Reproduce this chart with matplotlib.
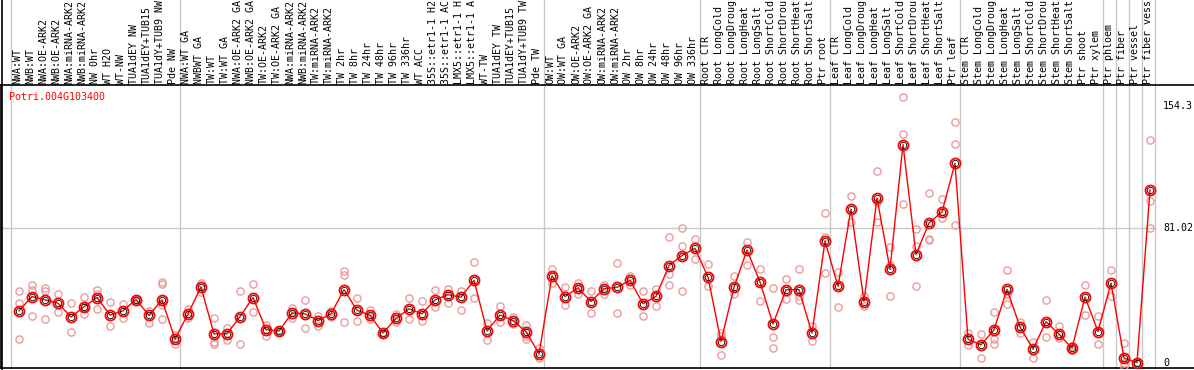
import matplotlib
matplotlib.use("Agg")
import matplotlib.pyplot as plt
from matplotlib.transforms import blended_transform_factory
from matplotlib.lines import Line2D

gene = "Potri.004G103400"

labels = [
    "NWA:WT", "NWB:WT", "NWA:OE-ARK2", "NWB:OE-ARK2", "NWA:miRNA-ARK2", "NWB:miRNA-ARK2",
    "NW 0hr", "WT H2O", "WT-NW", "TUA1dEY NW", "TUA1dEY+TUB15", "TUA1dY+TUB9 NW", "Pde NW",
    "NWA:WT GA", "NWBWT GA", "TW:WT", "TW:WT GA", "NWA:OE-ARK2 GA", "NWB:OE-ARK2 GA",
    "TW:OE-ARK2", "TW:OE-ARK2 GA", "NWA:miRNA-ARK2", "NWB:miRNA-ARK2", "TW:miRNA-ARK2",
    "TW:miRNA-ARK2", "TW 2hr", "TW 8hr", "TW 24hr", "TW 48hr", "TW 96hr", "TW 336hr",
    "WT ACC", "35S::etr1-1 H2", "35S::etr1-1 AC", "LMX5::etr1-1 H", "LMX5::etr1-1 A",
    "WT-TW", "TUA1dEY TW", "TUA1dEY+TUB15", "TUA1dY+TUB9 TW", "Pde TW",
    "OW:WT", "OW:WT GA", "OW:OE-ARK2", "OW:OE-ARK2 GA", "OW:miRNA-ARK2", "OW:miRNA-ARK2",
    "OW 2hr", "OW 8hr", "OW 24hr", "OW 48hr", "OW 96hr", "OW 336hr",
    "Root CTR", "Root LongCold", "Root LongDroug", "Root LongHeat", "Root LongSalt",
    "Root ShortCold", "Root ShortDrou", "Root ShortHeat", "Root ShortSalt", "Ptr root",
    "Leaf CTR", "Leaf LongCold", "Leaf LongDroug", "Leaf LongHeat", "Leaf LongSalt",
    "Leaf ShortCold", "Leaf ShortDrou", "Leaf ShortHeat", "Leaf ShortSalt", "Ptr leaf",
    "Stem CTR", "Stem LongCold", "Stem LongDroug", "Stem LongHeat", "Stem LongSalt",
    "Stem ShortCold", "Stem ShortDrou", "Stem ShortHeat", "Stem ShortSalt", "Ptr shoot",
    "Ptr xylem", "Ptr phloem", "Ptr fiber", "Ptr vessel", "Ptr fiber vess",
]

# index of first sample in each group (last entry closes the plot)
group_starts = [0, 13, 41, 53, 63, 73, 84, 85, 86, 87, 88]

means = [
    31.3, 39.9, 37.9, 35.9, 27.6, 33.7, 39.3, 28.8, 31.3, 38.1, 28.6, 37.9, 14.3,
    29.5, 45.6, 17.5, 17.5, 27.8, 39.3, 20.0, 19.2, 30.0, 29.5, 25.5, 29.5, 44.0,
    31.7, 28.6, 18.0, 26.8, 32.5, 29.5, 37.9, 41.0, 39.5, 49.6, 19.2, 28.8, 25.5,
    18.8, 5.6,
    52.4, 39.9, 45.0, 36.9, 44.6, 45.4, 49.6, 35.6, 40.0, 58.5, 64.5, 68.8,
    51.6, 12.9, 45.4, 67.8, 48.6, 23.4, 44.0, 44.0, 17.9, 73.2,
    46.0, 92.4, 36.9, 99.0, 56.3, 131.1, 65.1, 84.0, 90.6, 119.8,
    14.3, 10.9, 19.9, 44.2, 21.7, 8.3, 24.8, 17.3, 8.9, 39.6, 18.9,
    48.0, 3.0, 0.3, 103.9,
]

reps = [
    [43, 36.1, 14.3], [47, 44, 28.4], [45, 43.5, 26.4], [41.6, 30.5], [35.9, 18.8],
    [39.9, 29.5, 33.5], [43.9, 41.6, 32.5], [36.5, 22.4], [35.3, 27], [37.5, 38.5],
    [31, 24.2], [48.5, 47.5, 34.9, 26.4], [17, 11.7],
    [32.5, 26.8], [48, 42.5], [27, 12.5, 11.7], [20.8, 13.9], [43.5, 11.7],
    [47.5, 30.5], [22.8, 16.5], [19.8, 18.6], [33.1, 27.2], [37.9, 21], [28, 22.4],
    [31.5, 27.5], [55, 53, 24.4], [39.3, 25], [32, 26.4], [18.8, 17.5], [29.5, 24.4],
    [38.9, 26.4], [37.3, 25.5], [44, 33.7], [44.3, 35.9], [43.5, 32], [60.5, 38.9],
    [24, 13.7], [34.5, 24.4], [27.5, 23.5], [23, 14.3, 16], [8.9, 2.8],
    [56.7, 48], [45.4, 34.7], [47.8, 41.6], [43.3, 30.3], [47, 41.6], [60.3, 29.8],
    [52.2, 46.6], [43, 28.4], [44.2, 34.5], [75.4, 53.6, 46.6], [80.9, 70, 43],
    [74.4, 62.7],
    [59.7, 46.2], [18.3, 16.5, 4.6], [52.2, 41.4], [72.8, 59.1], [56.3, 37.5],
    [45.2, 15.7, 8.9], [50.2, 38.5], [56.7, 40.5, 37.9], [22.5, 13.3], [90, 75.8, 54.2],
    [54.6, 33.5], [100.4, 84.9], [40.1, 34], [115.2, 96.6, 84.9], [69.4, 59.1, 40.1],
    [159.5, 137.3, 95.2], [80.5, 70.1, 46], [102.1, 74.7, 73.7], [98.4, 87],
    [144.4, 131.7, 82.9],
    [18.3, 10.6], [17.3, 2.8], [30.4, 14.5, 11.4], [55.7, 41.6, 35.6], [24.8, 18.3],
    [12.7, 3.2], [37.9, 15.9], [22.1, 14.9], [10.3, 7.6], [47, 28.8], [28.4, 11.2],
    [55.7, 40.5], [11.8, 0.2, -1.5], [0.6, 0.1], [133.7, 97.2, 81.2],
]

ref_ticks = [154.3, 81.02, 0]
ref_labels = ["154.3", "81.02", "0"]

W, H = 1194, 370
fig = plt.figure(figsize=(W / 100, H / 100), dpi=100)
ax = fig.add_axes([1 / W, 2 / H, 1193 / W, 283 / H])

mono = "DejaVu Sans Mono"
pink = "#eb9c9c"

x = list(range(len(means)))

# replicates
for i, r in enumerate(reps):
    ax.plot([i] * len(r), r, linestyle="none", marker="o", ms=5.2,
            mfc="none", mec=pink, mew=1.0, zorder=3)

ax.plot(x, means, color="red", lw=1.0, zorder=4)
ax.plot(x, means, linestyle="none", marker="o", ms=7.2, mfc="none",
        mec="red", mew=1.3, zorder=5)
ax.plot(x, means, linestyle="none", marker="o", ms=4.6, mfc="none",
        mec="black", mew=0.6, zorder=6)

ax.set_xlim((1 - 19) / 13, (W - 19) / 13)
ax.set_ylim(-3.0, 166.8)

# 81.02 reference line
x_right = group_starts[-1] - 0.64
ax.plot([ax.get_xlim()[0], x_right], [81.02, 81.02], color="#c8c8c8", lw=1.0, zorder=1)

# group separators run through the label area too
for g in group_starts:
    ax.axvline(g - 0.64, ymin=0, ymax=1 + 85 / 283, color="#c8c8c8", lw=1.0,
               clip_on=False, zorder=1)

ax.set_xticks([])
ax.set_yticks([])
ax.spines["right"].set_visible(False)
for s in ["left", "top", "bottom"]:
    ax.spines[s].set_linewidth(1.2)

# left edge line in the header area
fig.add_artist(Line2D([1.5 / W, 1.5 / W], [0, 1], color="black", lw=1.2))

lab_tr = blended_transform_factory(ax.transData, fig.transFigure)
for i, lab in enumerate(labels):
    ax.text(i - 2 / 13, (H - 84) / H, lab, rotation=90, ha="center", va="bottom",
            fontsize=7.2, family=mono, transform=lab_tr, clip_on=False)

ax.text(9.5 / W, (H - 97) / H, gene, color="red", fontsize=7.2, family=mono,
        ha="left", va="center", transform=fig.transFigure)

tick_tr = blended_transform_factory(fig.transFigure, ax.transData)
for v, t in zip(ref_ticks, ref_labels):
    ax.text(1163 / W, v, t, fontsize=7.2, family=mono, ha="left", va="center",
            transform=tick_tr, clip_on=False)

fig.savefig("out.png", dpi=100)
